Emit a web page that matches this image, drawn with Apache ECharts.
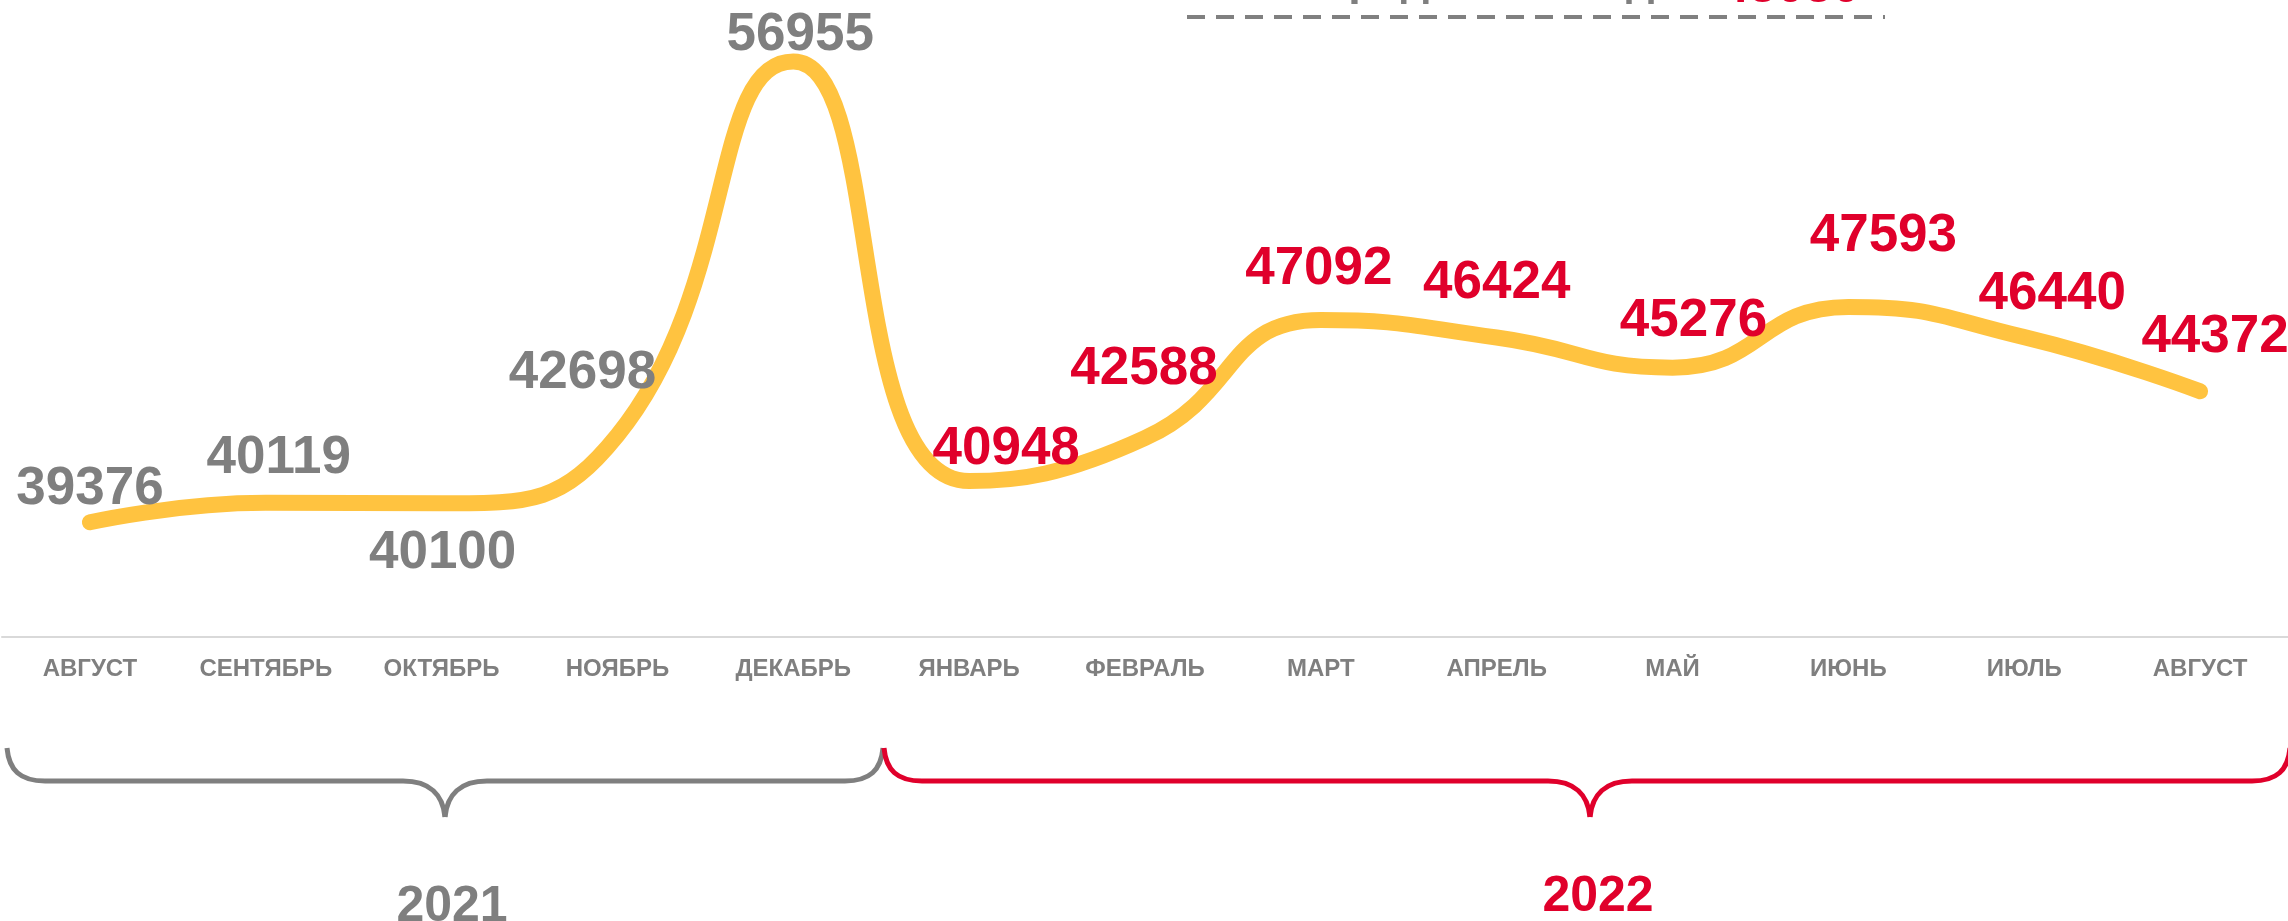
<!DOCTYPE html>
<html>
<head>
<meta charset="utf-8">
<style>
  html, body { margin: 0; padding: 0; background: #ffffff; }
  #chart { width: 2288px; height: 921px; }
</style>
<script src="https://cdn.jsdelivr.net/npm/echarts@6/dist/echarts.min.js"></script>
</head>
<body>
<div id="chart"></div>
<script>
// ---- data ----
const months = ['АВГУСТ', 'СЕНТЯБРЬ', 'ОКТЯБРЬ', 'НОЯБРЬ', 'ДЕКАБРЬ', 'ЯНВАРЬ', 'ФЕВРАЛЬ', 'МАРТ', 'АПРЕЛЬ', 'МАЙ', 'ИЮНЬ', 'ИЮЛЬ', 'АВГУСТ'];
const salaries2021 = [39376, 40119, 40100, 42698, 56955];
const salaries2022 = [40948, 42588, 47092, 46424, 45276, 47593, 46440, 44372];
const yearLabels = ['2021', '2022'];
const averageTitle = 'Средняя за год —';
const averageValue = 45050;

// ---- styles ----
const GRAY = '#7f7f7f';
const RED = '#e0002b';
const LINE = '#ffc340';
const salaries = salaries2021.concat(salaries2022);
// label shifts [dx, dy] relative to the default 'top' placement
const labelShift = [
  [0, -6], [13, -17], [1, 77], [-35, -35], [7, 1],
  [37, -5], [-1, -42], [-2, -24], [0, -27], [21, -19], [35, -43], [28, -16], [15, -27]
];

const seriesData = salaries.map((v, i) => ({
  value: v,
  label: {
    color: i < salaries2021.length ? GRAY : RED,
    offset: labelShift[i]
  }
}));

// decorative curly brace under the axis
function brace(xl, xr, xt, color) {
  const yTop = 748, yMid = 781, yTip = 817, st = { fill: 'none', stroke: color, lineWidth: 5 };
  return [
    { type: 'bezierCurve', shape: { x1: xl, y1: yTop, cpx1: xl + 2, cpy1: yMid - 11, cpx2: xl + 13, cpy2: yMid, x2: xl + 38, y2: yMid }, style: st },
    { type: 'line', shape: { x1: xl + 38, y1: yMid, x2: xt - 42, y2: yMid }, style: st },
    { type: 'bezierCurve', shape: { x1: xt - 42, y1: yMid, cpx1: xt - 15, cpy1: yMid, cpx2: xt - 2, cpy2: yMid + 14, x2: xt, y2: yTip }, style: st },
    { type: 'bezierCurve', shape: { x1: xt, y1: yTip, cpx1: xt + 2, cpy1: yMid + 14, cpx2: xt + 15, cpy2: yMid, x2: xt + 42, y2: yMid }, style: st },
    { type: 'line', shape: { x1: xt + 42, y1: yMid, x2: xr - 38, y2: yMid }, style: st },
    { type: 'bezierCurve', shape: { x1: xr - 38, y1: yMid, cpx1: xr - 13, cpy1: yMid, cpx2: xr - 2, cpy2: yMid - 11, x2: xr, y2: yTop }, style: st }
  ];
}

const chart = echarts.init(document.getElementById('chart'), null, { renderer: 'canvas' });

const option = {
  backgroundColor: '#ffffff',
  animation: false,
  grid: { left: 2, width: 2292, top: 0, bottom: 284, containLabel: false },
  xAxis: {
    type: 'category',
    data: months,
    boundaryGap: true,
    axisLine: { show: true, lineStyle: { color: '#d9d9d9', width: 2 } },
    axisTick: { show: false },
    axisLabel: {
      color: GRAY,
      fontFamily: '"Liberation Sans", Arial, sans-serif',
      fontWeight: 'bold',
      fontSize: 24,
      margin: 20,
      interval: 0
    },
    splitLine: { show: false }
  },
  yAxis: {
    type: 'value',
    min: 35000,
    max: 59300,
    show: false,
    splitLine: { show: false }
  },
  series: [{
    type: 'line',
    data: seriesData,
    smooth: 0.5,
    symbol: 'circle',
    symbolSize: 1,
    showSymbol: true,
    itemStyle: { color: LINE },
    lineStyle: { color: LINE, width: 16, cap: 'round', join: 'round' },
    label: {
      show: true,
      position: 'top',
      distance: 0,
      fontFamily: '"Liberation Sans", Arial, sans-serif',
      fontWeight: 'bold',
      fontSize: 53,
      lineHeight: 53
    },
    z: 2
  }],
  graphic: {
    elements: [].concat(
      brace(7, 883, 445, GRAY),
      brace(884, 2290, 1590, RED),
      [
        {
          type: 'text',
          style: { x: 452, y: 907, text: yearLabels[0], fill: GRAY, font: 'bold 50px "Liberation Sans", Arial, sans-serif', textAlign: 'center', textVerticalAlign: 'middle' }
        },
        {
          type: 'text',
          style: { x: 1598, y: 897, text: yearLabels[1], fill: RED, font: 'bold 50px "Liberation Sans", Arial, sans-serif', textAlign: 'center', textVerticalAlign: 'middle' }
        },
        {
          type: 'text',
          style: { x: 1712, y: -17, text: averageTitle, fill: GRAY, font: 'bold 45px "Liberation Sans", Arial, sans-serif', textAlign: 'right', textVerticalAlign: 'middle' }
        },
        {
          type: 'text',
          style: { x: 1860, y: -12, text: String(averageValue), fill: RED, font: 'bold 50px "Liberation Sans", Arial, sans-serif', textAlign: 'right', textVerticalAlign: 'middle' }
        },
        {
          type: 'line',
          shape: { x1: 1187, y1: 17, x2: 1885, y2: 17 },
          style: { stroke: '#808080', lineWidth: 4, lineDash: [18, 11] }
        }
      ]
    )
  }
};

chart.setOption(option);
</script>
</body>
</html>
